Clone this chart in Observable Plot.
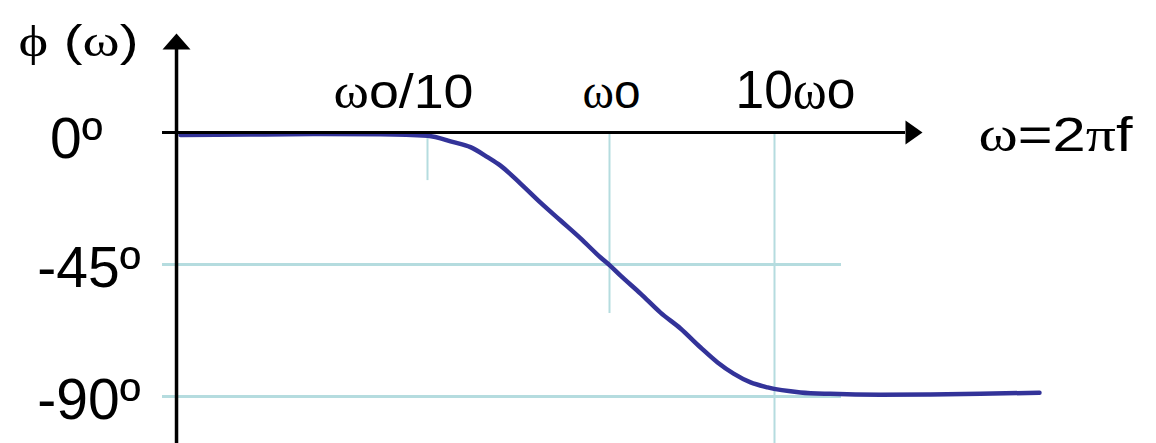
<!DOCTYPE html>
<html>
<head>
<meta charset="utf-8">
<script src="https://cdn.jsdelivr.net/npm/d3@7"></script>
<script src="https://cdn.jsdelivr.net/npm/@observablehq/plot@0.6"></script>
<style>
  html, body { margin: 0; padding: 0; background: #fff; }
  svg { display: block; }
</style>
</head>
<body>
<script>
// Phase response of a first-order low-pass: phase in degrees versus
// frequency, with frequency given in decades relative to ω0.
const curveDecade = [-2.357, -1.973, -1.588, -1.258, -1.0, -0.857, -0.764, -0.670, -0.599,
  -0.489, -0.379, -0.269, -0.159, -0.049, 0.0, 0.067, 0.188, 0.309, 0.430, 0.552, 0.655,
  0.752, 0.855, 0.958, 1.158, 1.339, 1.642, 1.945, 2.248, 2.606];
const curvePhase = [-0.85, -0.68, -0.51, -0.61, -1.1, -3.3, -5.0, -8.4, -11.3,
  -17.4, -23.9, -30.0, -36.1, -42.6, -45.2, -48.8, -54.9, -61.4, -66.8, -73.3, -78.4,
  -82.2, -85.2, -86.9, -88.6, -89.1, -89.4, -89.3, -89.1, -88.7];

const xTickDecades = [-1, 0, 1];
const xTickLabels = ["ωo/10", "ωo", "10ωo"];
const yTickDegrees = [0, -45, -90];
const yTickLabels = ["0º", "-45º", "-90º"];
const gridDegrees = [-45, -90];
const tickLineEnds = [-16.4, -61.7, -106];   // how far each frequency guide drops

const yTitle = "ϕ (ω)";
const xTitle = "ω=2πf";

// extents of the hand-drawn axes, in decade / degree units
const yAxisAt = -2.379, xAxisFrom = -2.456, xAxisTo = 1.794;
const yAxisBottom = -106, yAxisTop = 28.3, gridTo = 1.406;

const curve = curveDecade.map((d, i) => ({d, p: curvePhase[i]}));
const xTicks = xTickDecades.map((d, i) => ({d, label: xTickLabels[i], end: tickLineEnds[i]}));
const yTicks = yTickDegrees.map((p, i) => ({p, label: yTickLabels[i]}));

const arrowRight = {draw(ctx) { ctx.moveTo(17, 0); ctx.lineTo(0, -12); ctx.lineTo(0, 12); ctx.closePath(); }};
const arrowUp = {draw(ctx) { ctx.moveTo(0, -16); ctx.lineTo(-14, 0); ctx.lineTo(14, 0); ctx.closePath(); }};

const gridColor = "#b5dcdf";
const curveColor = "#333399";
const labelNudge = [-24, 2, 21];

const chart = Plot.plot({
  width: 1156,
  height: 443,
  margin: 0,
  style: {fontFamily: "'Liberation Sans', Arial, sans-serif", background: "#fff", color: "#000"},
  x: {type: "linear", domain: [-1, 0, 1], range: [427, 609, 774], axis: null},
  y: {type: "linear", domain: [-90, 0], range: [396, 132], axis: null},
  marks: [
    // horizontal guides at -45º and -90º
    Plot.ruleY(gridDegrees, {x1: () => xAxisFrom, x2: () => gridTo, stroke: gridColor, strokeWidth: 3}),
    // vertical guides under each frequency mark
    Plot.ruleX(xTicks, {x: "d", y1: () => 0, y2: "end", stroke: gridColor, strokeWidth: 2}),
    // phase curve
    Plot.line(curve, {x: "d", y: "p", stroke: curveColor, strokeWidth: 4.5, curve: "monotone-x"}),
    // axes with arrowheads
    Plot.ruleY([0], {x1: () => xAxisFrom, x2: () => xAxisTo, stroke: "#000", strokeWidth: 3}),
    Plot.ruleX([yAxisAt], {y1: () => yAxisBottom, y2: () => yAxisTop, stroke: "#000", strokeWidth: 3.5}),
    Plot.dot([0], {x: () => xAxisTo, y: d => d, symbol: arrowRight, fill: "#000", stroke: null}),
    Plot.dot([yAxisTop], {x: () => yAxisAt, y: d => d, symbol: arrowUp, fill: "#000", stroke: null}),
    // phase labels
    Plot.text(yTicks.filter(t => t.p === 0), {x: () => yAxisAt, y: "p", text: "label", textAnchor: "end",
      lineAnchor: "bottom", dx: -74, dy: 25, fontSize: 57, fill: "#000"}),
    Plot.text(yTicks.filter(t => t.p !== 0), {x: () => yAxisAt, y: "p", text: "label", textAnchor: "end",
      lineAnchor: "bottom", dx: -36, dy: 22, fontSize: 57, fill: "#000"}),
    // frequency labels
    ...xTicks.map((t, i) => Plot.text([t], {x: "d", y: () => 0, text: "label", textAnchor: "middle",
      lineAnchor: "bottom", dx: labelNudge[i], dy: -25, fontSize: i === 2 ? 54 : 48, fill: "#000"})),
    // axis titles
    Plot.text([yTitle], {frameAnchor: "top-left", textAnchor: "start", lineAnchor: "bottom",
      dx: 18, dy: 55, fontSize: 44, fill: "#000"}),
    Plot.text([xTitle], {frameAnchor: "top-left", textAnchor: "start", lineAnchor: "bottom",
      dx: 978, dy: 150, fontSize: 49, fill: "#000"})
  ]
});

// the labels are set a little wide, and Greek letters use a serif face
const widths = {"ϕ (ω)": 120, "ω=2πf": 154, "ωo/10": 140, "ωo": 58, "10ωo": 120};
d3.select(chart).selectAll("text").each(function () {
  const s = this.textContent;
  if (widths[s]) {
    this.setAttribute("textLength", widths[s]);
    this.setAttribute("lengthAdjust", "spacingAndGlyphs");
  }
  if (/[ωϕπ]/.test(s)) {
    this.textContent = "";
    for (const part of s.split(/([ωϕπ])/)) {
      if (!part) continue;
      const ts = document.createElementNS("http://www.w3.org/2000/svg", "tspan");
      ts.textContent = part;
      if (/[ωϕπ]/.test(part)) ts.style.fontFamily = "'Liberation Serif', 'DejaVu Serif', serif";
      this.appendChild(ts);
    }
  }
});

document.body.appendChild(chart);
</script>
</body>
</html>
